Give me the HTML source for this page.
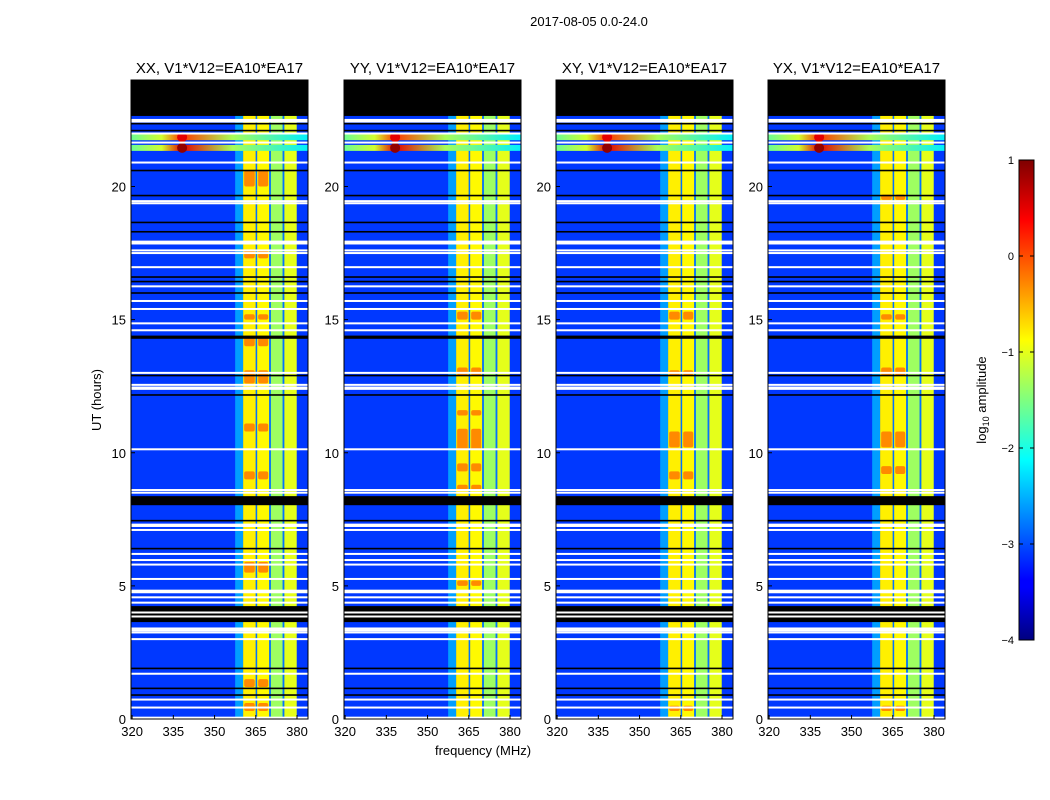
<!DOCTYPE html>
<html><head><meta charset="utf-8">
<style>
body{margin:0;background:#fff;font-family:"Liberation Sans",sans-serif;}
svg{display:block}
text{font-family:"Liberation Sans",sans-serif;fill:#000}
</style></head>
<body>
<svg id="fig" width="1050" height="800" viewBox="0 0 1050 800" xmlns="http://www.w3.org/2000/svg">
<rect width="1050" height="800" fill="#fff"/>
<text x="589" y="26" font-size="13" text-anchor="middle">2017-08-05 0.0-24.0</text>
<text x="101" y="400" font-size="13" text-anchor="middle" transform="rotate(-90 101 400)">UT (hours)</text>
<text x="483" y="755" font-size="13" text-anchor="middle">frequency (MHz)</text>
<g id="panels"></g>
<defs>
<linearGradient id="jetgrad" x1="0" y1="1" x2="0" y2="0">
<stop offset="0" stop-color="#00007f"/><stop offset="0.11" stop-color="#0000ff"/>
<stop offset="0.125" stop-color="#0000ff"/><stop offset="0.375" stop-color="#00ffff"/>
<stop offset="0.625" stop-color="#ffff00"/><stop offset="0.875" stop-color="#ff0000"/>
<stop offset="1" stop-color="#7f0000"/>
</linearGradient>
</defs>
<g id="colorbar"></g>
</svg>
<script>
// ---- data ----
const panelTitles = ["XX, V1*V12=EA10*EA17","YY, V1*V12=EA10*EA17","XY, V1*V12=EA10*EA17","YX, V1*V12=EA10*EA17"];
const xTicks = [320,335,350,365,380];
const yTicks = [0,5,10,15,20];
const cbTicks = [1,0,-1,-2,-3,-4];
const backgroundLevel = -3.1;
// frequency segments [fStart,fEnd,level]
const bandStarts = [357.5,360.4,365.0,365.5,369.9,370.5,374.8,375.4];
const bandEnds   = [360.4,365.0,365.5,369.9,370.5,374.8,375.4,379.9];
const bandLevels = [-2.6,-0.8,-2.8,-0.85,-2.8,-1.35,-2.8,-1.0];
// hot (orange) time blocks per panel in first two sub-bands [hStart,hEnd]
const hotXX = [[20.0,20.6],[17.3,17.6],[15.0,15.2],[14.0,14.4],[12.6,13.1],[10.8,11.1],[9.0,9.3],[5.5,5.9],[1.2,1.5],[0.3,0.6]];
const hotYY = [[15.0,15.3],[12.9,13.2],[11.4,11.6],[10.1,10.9],[9.3,9.6],[8.6,8.8],[5.0,5.2]];
const hotXY = [[15.0,15.3],[12.9,13.1],[10.2,10.8],[9.0,9.3],[0.3,0.5]];
const hotYX = [[19.5,19.7],[15.0,15.2],[12.9,13.2],[10.2,10.8],[9.2,9.5],[0.3,0.5]];
const hotBlocks = [hotXX,hotYY,hotXY,hotYX];
// flagged rows: black [hStart,hEnd]
const blackRows = [[22.65,24],[22.33,22.39],[22.07,22.13],[20.57,20.63],[19.63,19.69],[18.62,18.68],[18.27,18.33],
 [16.57,16.63],[16.40,16.46],[15.97,16.03],[14.28,14.40],[12.87,12.93],[12.14,12.20],[8.03,8.37],[7.42,7.48],[6.37,6.43],
 [3.64,4.24],[1.87,1.93],[1.12,1.18],[0.87,0.93]];
const whiteRows = [22.5,22.44,21.99,21.65,20.9,19.45,19.37,17.93,17.86,17.6,17.5,16.97,16.25,15.7,15.4,14.86,14.6,13.0,
 12.55,12.45,12.4,10.13,8.6,8.5,7.3,7.25,7.1,6.2,5.97,5.8,5.26,4.82,4.76,4.57,4.37,4.0,3.85,3.4,3.33,3.25,3.0,1.7,0.73,0.43,0.05];
// strong RFI lines [hour, peakFreq, peakLevel]
const rfiHours = [21.85,21.45];
const rfiFreq = [338.2,338.2];
const rfiPeak = [0.5,0.9];
const xMin=319.6, xMax=384, yMin=0, yMax=24;
const panelLefts=[131,344,556,768], pW=177, pTop=80, pH=639;
const NS="http://www.w3.org/2000/svg";
function jet(l){let t=Math.max(0,Math.min(1,(l+4)/5));
 const c=v=>Math.round(255*Math.max(0,Math.min(1,v)));
 return `rgb(${c(1.5-Math.abs(4*t-3))},${c(1.5-Math.abs(4*t-2))},${c(1.5-Math.abs(4*t-1))})`;}
function mk(tag,attrs,parent){const e=document.createElementNS(NS,tag);for(const k in attrs)e.setAttribute(k,attrs[k]);parent.appendChild(e);return e;}
const root=document.getElementById('panels');
panelTitles.forEach((title,p)=>{
 const L=panelLefts[p];
 const xs=f=>L+(f-xMin)/(xMax-xMin)*pW;
 const ys=h=>pTop+pH-(h-yMin)/(yMax-yMin)*pH;
 const g=mk('g',{},root);
 
 
 const bg=mk('rect',{x:L,y:pTop,width:pW,height:pH,fill:jet(backgroundLevel)},g);
 
 
 bandStarts.forEach((fs,i)=>{
  const r=mk('rect',{x:xs(fs),y:pTop,width:xs(bandEnds[i])-xs(fs),height:pH,fill:jet(bandLevels[i])},g);
  
  
 });
 hotBlocks[p].forEach((hb,i)=>{
  [[bandStarts[1],bandEnds[1]],[bandStarts[3],bandEnds[3]]].forEach(seg=>{
   const r=mk('rect',{x:xs(seg[0])+1,y:ys(hb[1]),width:xs(seg[1])-xs(seg[0])-2,height:ys(hb[0])-ys(hb[1]),fill:jet(-0.3),rx:2},g);
   
   
  });
 });
 rfiHours.forEach((h,i)=>{
  const gid='rfi'+p+'_'+i;
  const lg=mk('linearGradient',{id:gid,x1:0,y1:0,x2:1,y2:0},g);
  const pk=(rfiFreq[i]-xMin)/(xMax-xMin);
  mk('stop',{offset:0,'stop-color':jet(-1.6)},lg);
  mk('stop',{offset:pk*0.6,'stop-color':jet(-1.1)},lg);
  mk('stop',{offset:pk,'stop-color':jet(rfiPeak[i]-0.4)},lg);
  mk('stop',{offset:pk+(1-pk)*0.4,'stop-color':jet(-1.3)},lg);
  mk('stop',{offset:1,'stop-color':jet(-2.2)},lg);
  const r=mk('rect',{x:L,y:ys(h)-3,width:pW,height:6,fill:`url(#${gid})`},g);
  
  
  const e=mk('ellipse',{cx:xs(rfiFreq[i]),cy:ys(h),rx:5,ry:5,fill:jet(rfiPeak[i])},g);
  
  
 });
 blackRows.forEach(b=>{
  const r=mk('rect',{x:L,y:ys(b[1]),width:pW,height:Math.max(1.3,ys(b[0])-ys(b[1])),fill:'#000'},g);
  
  
 });
 whiteRows.forEach(h=>{
  const r=mk('rect',{x:L,y:ys(h)-1,width:pW,height:2,fill:'#fff'},g);
  
  
 });
 const fr=mk('rect',{x:L,y:pTop,width:pW,height:pH,fill:'none',stroke:'#000','stroke-width':1},g);
 
 
 const t=mk('text',{x:L+pW/2,y:73,'font-size':15,'text-anchor':'middle'},g);t.textContent=title;
 
 
 xTicks.forEach(v=>{
  const tx=mk('text',{x:xs(v),y:736,'font-size':13,'text-anchor':'middle'},g);tx.textContent=v;
  
  
  mk('line',{x1:xs(v),x2:xs(v),y1:pTop+pH,y2:pTop+pH-4,stroke:'#000'},g);
 });
 yTicks.forEach(v=>{
  const ty=mk('text',{x:L-5,y:ys(v)+5,'font-size':13,'text-anchor':'end'},g);ty.textContent=v;
  
  
  mk('line',{x1:L,x2:L+4,y1:ys(v),y2:ys(v),stroke:'#000'},g);
 });
});
// colorbar
const cb=document.getElementById('colorbar');
const cbTop=160,cbH=480,cbX=1019,cbW=15;
const cy=v=>cbTop+(1-v)/5*cbH;
mk('rect',{x:cbX,y:cbTop,width:cbW,height:cbH,fill:'url(#jetgrad)',stroke:'#000','stroke-width':1},cb);
cbTicks.forEach(v=>{
 const t=mk('text',{x:1014,y:cy(v)+4,'font-size':11,'text-anchor':'end'},cb);t.textContent=(v<0?'\u2212'+(-v):v);
 
 
 mk('line',{x1:cbX,x2:cbX+4,y1:cy(v),y2:cy(v),stroke:'#000'},cb);
 mk('line',{x1:cbX+cbW-4,x2:cbX+cbW,y1:cy(v),y2:cy(v),stroke:'#000'},cb);
});
const lab=mk('text',{x:986,y:400,'font-size':13,'text-anchor':'middle',transform:'rotate(-90 986 400)'},cb);
lab.innerHTML='log<tspan font-size="9" dy="3">10</tspan><tspan dy="-3"> amplitude</tspan>';


</script>
</body></html>
